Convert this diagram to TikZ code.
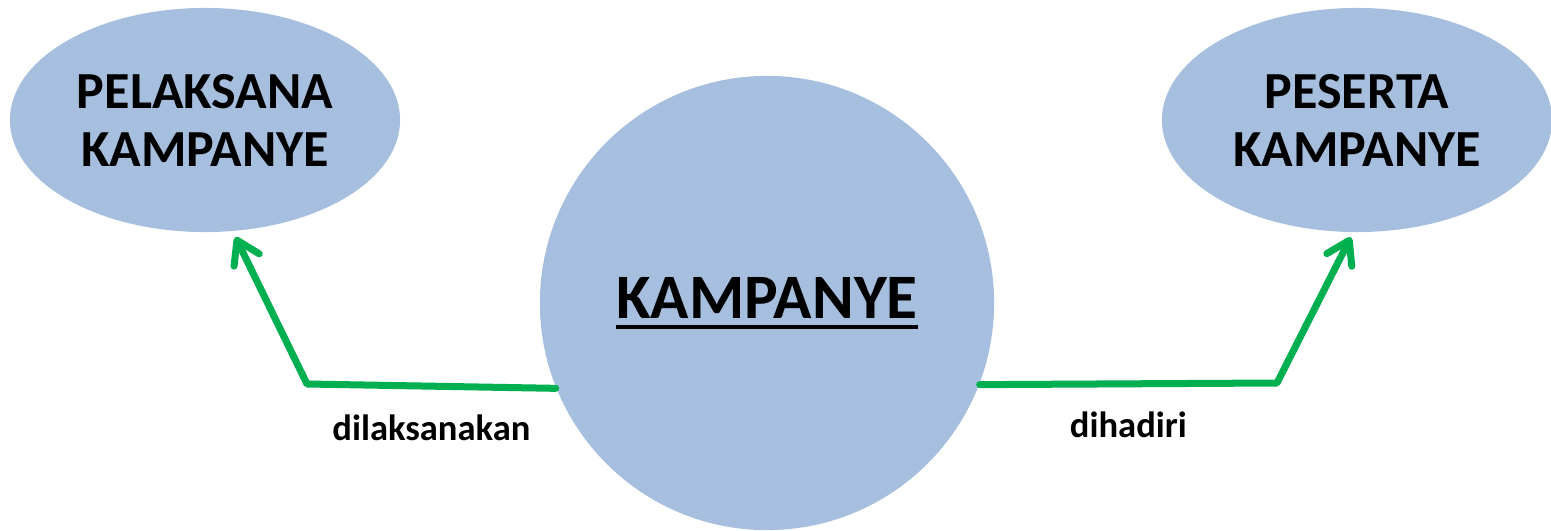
\documentclass[tikz,border=0pt]{standalone}
\usepackage{fontspec}
\setmainfont{Carlito}
\usetikzlibrary{
    arrows.meta,
    positioning,
    shapes.geometric
}
\definecolor{blob blue}{RGB}{167,191,222}
\definecolor{link green}{RGB}{0,176,80}
\newsavebox{\ulbox}
\newcommand{\thickul}[1]{\sbox{\ulbox}{#1}\rlap{\usebox{\ulbox}}\rule[-2.9pt]{\wd\ulbox}{1pt}}
\tikzset{
    % Colors
    blob color/.style={fill=blob blue},
    link color/.style={color=link green},
    %
    % Nodes
    party/.style={ellipse,blob color,minimum width=3.9cm,minimum height=2.24cm,inner sep=0pt,align=center,font=\bfseries\fontsize{14.8}{16.5}\selectfont},
    topic/.style={circle,blob color,minimum size=4.54cm,inner sep=0pt,font=\bfseries\fontsize{18}{21}\selectfont},
    rel label/.style={below=1.3mm,text=black,font=\bfseries\fontsize{10.4}{12}\selectfont},
    %
    % Arrows
    arrow tip/.tip={Straight Barb[round,length=2.2mm,width=2.8mm]},
    link/.style={link color,line width=0.7mm,line cap=round,line join=round,-{arrow tip}}
}

\begin{document}
\begin{tikzpicture}[x=0.01cm,y=-0.01cm]
        \useasboundingbox (0,0) rectangle (1551,530);
        \node[topic] (camp) at (767,303) {\thickul{KAMPANYE}};
        \node[party] (pel) at (205,120) {PELAKSANA\\KAMPANYE};
        \node[party] (pes) at (1357,120) {PESERTA\\KAMPANYE};
        \coordinate (pel bend) at (307,384);
        \coordinate (pes bend) at (1277,383);
        % links
        \draw[link,shorten >=0.6mm] (camp.202) -- node[rel label] {dilaksanakan} (pel bend) -- (pel.-76);
        \draw[link,shorten >=0.5mm] (camp.-21) -- node[rel label] {dihadiri} (pes bend) -- (pes.-92);
    \end{tikzpicture}
\end{document}
